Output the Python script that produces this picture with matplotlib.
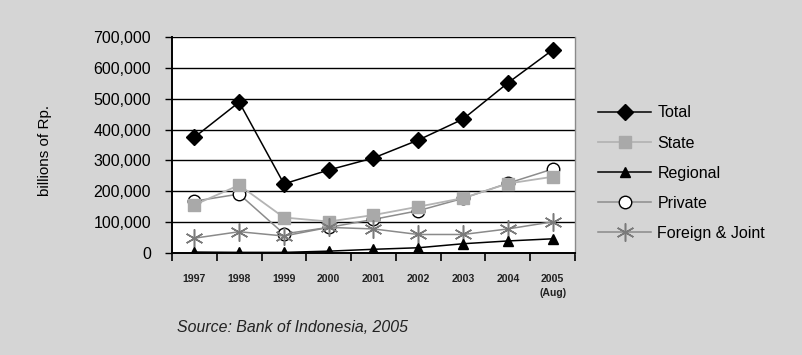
import numpy as np
import matplotlib
matplotlib.use("Agg")
import matplotlib.pyplot as plt
from matplotlib.ticker import FuncFormatter, FixedLocator

plt.rcParams['font.family'] = ['Liberation Sans', 'DejaVu Sans']

# banking assets by bank group, billions of Rp.
years = ['1997', '1998', '1999', '2000', '2001', '2002', '2003', '2004', '2005\n(Aug)']
total = [375000, 489000, 224000, 269000, 308000, 366000, 434000, 551000, 658000]
state = [156000, 220000, 115000, 102000, 123000, 150000, 178000, 225000, 247000]
regional = [3000, 2000, 2000, 6000, 12000, 17000, 30000, 39000, 46000]
private = [168000, 191000, 62000, 83000, 109000, 137000, 177000, 226000, 272000]
foreign_joint = [48000, 69000, 55000, 83000, 78000, 60000, 60000, 78000, 101000]

BG = '#d5d5d5'

fig = plt.figure(figsize=(8.02, 3.55), dpi=100, facecolor=BG)
ax = fig.add_axes([172/802, 1 - 253/355, (575-172)/802, (253-37)/355])
ax.set_facecolor('white')

x = np.arange(len(years))

ax.plot(x, total, color='black', lw=1.1, marker='D', ms=8, mfc='black', mec='black',
        label='Total', zorder=5)
ax.plot(x, private, color='#8c8c8c', lw=1.1, marker='o', ms=9, mfc='white', mec='black',
        mew=1.0, label='Private', zorder=3)
ax.plot(x, state, color='#b4b4b4', lw=1.3, marker='s', ms=8, mfc='#a9a9a9', mec='#a9a9a9',
        label='State', zorder=4)
ax.plot(x, regional, color='black', lw=1.1, marker='^', ms=7.5, mfc='black', mec='black',
        label='Regional', zorder=5)
ax.plot(x, foreign_joint, color='#8a8a8a', lw=1.1, marker=(6, 2, 0), ms=13, mec='#7a7a7a',
        mew=1.1, label='Foreign & Joint', zorder=4)

ax.set_xlim(-0.5, len(years) - 0.5)
ax.set_ylim(0, 700000)
ax.set_yticks(np.arange(0, 700001, 100000))
ax.yaxis.set_major_formatter(FuncFormatter(lambda v, p: f"{int(v):,}"))
ax.grid(axis='y', color='black', lw=1.0)
ax.set_axisbelow(True)

ax.set_xticks(x)
ax.set_xticklabels(years, fontsize=7.6, fontweight='bold', color='#222222', linespacing=1.5)
ax.xaxis.set_minor_locator(FixedLocator(np.arange(-0.5, len(years), 1.0)))
ax.tick_params(axis='x', which='major', length=0, pad=15)
ax.tick_params(axis='x', which='minor', length=6, width=1.2, direction='out', color='black')
ax.tick_params(axis='y', length=5, width=1.0, pad=10, labelsize=11.5, colors='black')

for side in ['left', 'bottom']:
    ax.spines[side].set_color('black')
    ax.spines[side].set_linewidth(1.4)
ax.spines['top'].set_visible(False)
ax.spines['right'].set_color('#8a8a8a')
ax.spines['right'].set_linewidth(1.0)

handles, labels = ax.get_legend_handles_labels()
order = ['Total', 'State', 'Regional', 'Private', 'Foreign & Joint']
hmap = dict(zip(labels, handles))
leg = fig.legend([hmap[k] for k in order], order, loc='upper left',
                 bbox_to_anchor=(584/802, 1 - 91/355), frameon=False,
                 fontsize=11.5, handlelength=3.3, labelspacing=0.95, handletextpad=0.4)

fig.text(45/802, 1 - 150/355, 'billions of Rp.', rotation=90, fontsize=11,
         ha='center', va='center')
fig.text(177/802, 1 - 327/355, 'Source: Bank of Indonesia, 2005', fontsize=11.4,
         style='italic', ha='left', va='center', color='#222222')

fig.savefig('out.png', dpi=100, facecolor=BG)
